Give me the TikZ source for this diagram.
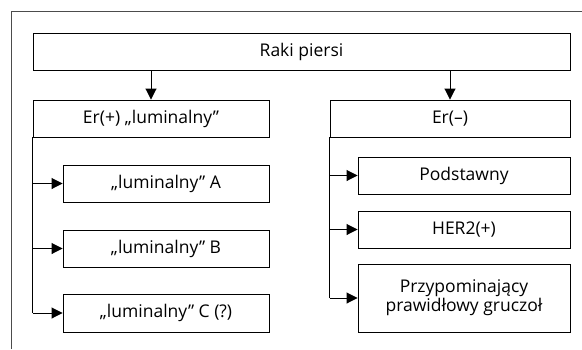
\documentclass[tikz,border=0pt]{standalone}
\usepackage{fontspec}
\setmainfont{Open Sans}
\usetikzlibrary{arrows.meta}
\begin{document}
\begin{tikzpicture}[x=1pt,y=-1pt,
  box/.style={draw=black,line width=0.9pt,inner sep=0pt,font=\fontsize{17.5}{21}\selectfont,align=center},
  conn/.style={line width=0.9pt,-{Triangle[length=11pt,width=11pt]}},
  trunk/.style={line width=0.9pt}]
\useasboundingbox (0,0) rectangle (582,349);
\draw[line width=0.9pt,draw=black!70] (11,349) -- (11,11) -- (582,11);
% top
\node[box,minimum width=537pt,minimum height=37pt] (top) at (301.5,51.5) {Raki piersi};
\node[box,minimum width=236pt,minimum height=37pt] (erp) at (151,118.5) {Er(+) „luminalny”};
\node[box,minimum width=240pt,minimum height=37pt] (erm) at (450,118.5) {Er(–)};
\draw[conn] (top.south -| erp) -- (erp.north);
\draw[conn] (top.south -| erm) -- (erm.north);
% left children
\node[box,minimum width=206pt,minimum height=37pt] (la) at (166,183.5) {„luminalny” A};
\node[box,minimum width=206pt,minimum height=37pt] (lb) at (166,248.5) {„luminalny” B};
\node[box,minimum width=206pt,minimum height=38pt] (lc) at (166,313) {„luminalny” C (?)};
\draw[trunk] (erp.south west) -- (erp.south west |- lc.west);
\draw[conn] (erp.south west |- la.west) -- (la.west);
\draw[conn] (erp.south west |- lb.west) -- (lb.west);
\draw[conn] (erp.south west |- lc.west) -- (lc.west);
% right children
\node[box,minimum width=212pt,minimum height=37pt] (ra) at (464,175.5) {Podstawny};
\node[box,minimum width=212pt,minimum height=37pt] (rb) at (464,229.5) {HER2(+)};
\node[box,minimum width=212pt,minimum height=68pt] (rc) at (464,298) {Przypominający\\[-2pt]prawidłowy gruczoł};
\draw[trunk] (erm.south west) -- (erm.south west |- rc.west);
\draw[conn] (erm.south west |- ra.west) -- (ra.west);
\draw[conn] (erm.south west |- rb.west) -- (rb.west);
\draw[conn] (erm.south west |- rc.west) -- (rc.west);
\end{tikzpicture}
\end{document}
